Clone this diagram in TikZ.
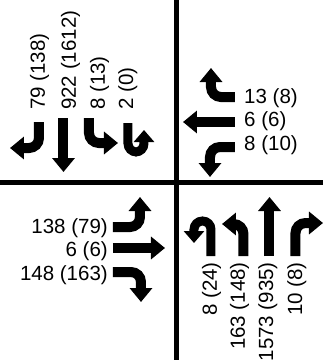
\documentclass[tikz,border=0pt]{standalone}
\usepackage{fontspec}
\setmainfont{Liberation Sans}
\usetikzlibrary{arrows.meta}
\tikzset{
  divider/.style={line width=4.5pt},
  mv/.style={line width=10pt, line cap=butt, rounded corners=10pt, -{Triangle[width=22pt,length=14pt]}},
  uturn/.style={line width=9pt, line cap=butt, rounded corners=8.5pt, -{Triangle[width=20pt,length=12pt]}},
  lbl/.style={inner sep=0pt, font=\fontsize{20.5}{25}\selectfont},
}
\begin{document}
\begin{tikzpicture}[x=1pt,y=-1pt]
\useasboundingbox (0,0) rectangle (323,360);
% dividers
\draw[divider] (176.5,0) -- (176.5,360);
\draw[divider] (0,182.5) -- (323,182.5);

% NW: southbound approach
\node[lbl, rotate=90, anchor=base west] (s1) at (45,110) {79 (138)};
\node[lbl, rotate=90, anchor=base west] (s2) at (76,110) {922 (1612)};
\node[lbl, rotate=90, anchor=base west] (s3) at (105,110) {8 (13)};
\node[lbl, rotate=90, anchor=base west] (s4) at (133,110) {2 (0)};
\draw[mv] (39,122) -- (39,148) -- (10,148);
\draw[mv] (63.5,118) -- (63.5,172);
\draw[mv] (89,118) -- (89,143) -- (118,143);
\draw[uturn] (128,123) -- (128,152) -- (144,152) -- (144,130);

% NE: westbound approach
\node[lbl, anchor=base west] (w1) at (244,103) {13 (8)};
\node[lbl, anchor=base west] (w2) at (244,126.5) {6 (6)};
\node[lbl, anchor=base west] (w3) at (244,150) {8 (10)};
\draw[mv] (235,97) -- (211,97) -- (211,68);
\draw[mv] (235,122) -- (183,122);
\draw[mv] (235,147) -- (210,147) -- (210,177);

% SW: eastbound approach
\node[lbl, anchor=base east] (e1) at (108,233) {138 (79)};
\node[lbl, anchor=base east] (e2) at (108,256.5) {6 (6)};
\node[lbl, anchor=base east] (e3) at (108,280) {148 (163)};
\draw[mv] (113,227) -- (140,227) -- (140,197);
\draw[mv] (113,248) -- (165,248);
\draw[mv] (113,272) -- (141,272) -- (141,302);

% SE: northbound approach
\node[lbl, rotate=90, anchor=base east] (n1) at (217,262) {8 (24)};
\node[lbl, rotate=90, anchor=base east] (n2) at (245,262) {163 (148)};
\node[lbl, rotate=90, anchor=base east] (n3) at (273,262) {1573 (935)};
\node[lbl, rotate=90, anchor=base east] (n4) at (302,262) {10 (8)};
\draw[uturn] (211,256) -- (211,221) -- (194,221) -- (194,243);
\draw[mv] (243.5,256) -- (243.5,224) -- (222,224);
\draw[mv] (269.5,256) -- (269.5,197);
\draw[mv] (295.5,256) -- (295.5,223) -- (323,223);
\end{tikzpicture}
\end{document}
